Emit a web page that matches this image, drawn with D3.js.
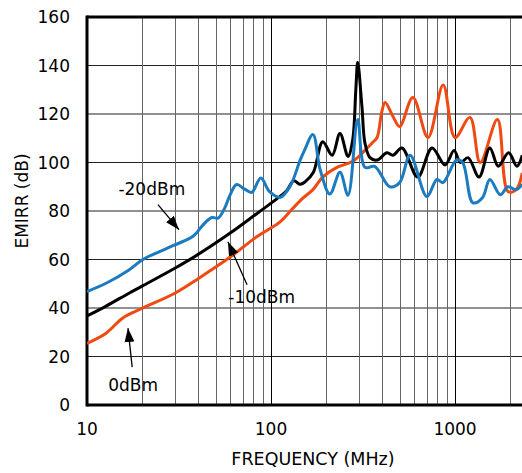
<!DOCTYPE html>
<html>
<head>
<meta charset="utf-8">
<script src="https://cdn.jsdelivr.net/npm/d3@7"></script>
<style>
  body { margin: 0; background: #fff; }
  text { font-family: "DejaVu Sans", sans-serif; fill: #000; }
</style>
</head>
<body>
<div id="chart"></div>
<script>
// frequency (MHz), EMIRR (dB)
const minus20dBm = [[10,46.8],[12.7,50.2],[16.9,55.7],[20,59.9],[23.7,62.6],[30,66],[38,69.8],[42.7,74.3],[47.7,77.3],[51.6,77.1],[56,81.2],[60,86.7],[65,90.9],[72,89],[78.6,87.7],[88,93.6],[98,88.1],[112,85.6],[127,90.2],[144,101],[152,105],[169,111.5],[185,97],[209,87],[237,96],[262,86.5],[296,117.7],[324,98],[366,98.4],[442,90],[500,91.7],[570,103],[703,86],[797,93],[860,91.7],[1018,101],[1100,100],[1250,83.4],[1410,85.5],[1546,93],[1760,86.7],[1940,90],[2150,88.8],[2320,91]];
const minus10dBm = [[10,36.7],[12.7,40.8],[16.9,46.1],[20,49.1],[30,56.4],[39.8,61.9],[60,70.9],[84,79],[112,86],[122,88.5],[133,92.5],[144,91],[153,92],[170,96],[191,108.6],[215,103],[237,112],[262,102.5],[278,109.5],[289,130],[296,141.3],[312,123],[324,108],[345,102],[377,101],[427,104],[460,103],[515,106],[627,94],[750,106],[883,99],[988,105],[1070,100],[1177,102],[1350,94],[1546,106],[1718,98.5],[1955,104],[2170,98.5],[2320,103]];
const zero_dBm = [[10,25.4],[12.7,29.6],[15.6,35.8],[20,39.9],[30,46.1],[39.8,51.9],[60,61],[84,69.5],[112,75.5],[131,81],[150,85.5],[169,88.8],[191,94],[228,98],[278,100.5],[324,105],[354,108],[377,110.3],[400,121],[417,124.7],[460,119],[500,114.8],[590,126.8],[713,110.3],[862,132],[1000,110.3],[1205,118.6],[1370,100],[1700,117.7],[1940,88],[2150,88.8],[2320,95.7]];

const xDomain = [10, 2312];
const yDomain = [0, 160];
const xTickLabels = [10, 100, 1000];
const yTicks = [0, 20, 40, 60, 80, 100, 120, 140, 160];
const xGrid = [20,30,40,50,60,70,80,90,100,200,300,400,500,600,700,800,900,1000,2000];
const xMajor = [100, 1000];

// label, text pos [f, dB], arrow tail, arrow head
const notes = [
  { label: "-20dBm", text: [22.5, 89.2], from: [24.3, 82.6], to: [31.6, 72.3] },
  { label: "-10dBm", text: [89, 44.6], from: [74.1, 49.6], to: [58.3, 67.3] },
  { label: "0dBm", text: [17.8, 8.2], from: [17.6, 15.6], to: [16.7, 31.7] }
];

const margin = { top: 17, right: 0, bottom: 68, left: 87 };
const W = 522, H = 473;
const width = W - margin.left - margin.right;
const height = H - margin.top - margin.bottom;

const svg = d3.select("#chart").append("svg")
    .attr("width", W)
    .attr("height", H);

svg.append("defs").append("clipPath").attr("id", "clip")
  .append("rect").attr("width", width).attr("height", height);

svg.select("defs").append("marker")
    .attr("id", "arrow")
    .attr("viewBox", "0 0 14 10")
    .attr("refX", 14).attr("refY", 5)
    .attr("markerWidth", 14).attr("markerHeight", 10)
    .attr("markerUnits", "userSpaceOnUse")
    .attr("orient", "auto")
  .append("path").attr("d", "M0,0L14,5L0,10Z").attr("fill", "#000");

const g = svg.append("g")
    .attr("transform", "translate(" + margin.left + "," + margin.top + ")");

const x = d3.scaleLog().domain(xDomain).range([0, width]);
const y = d3.scaleLinear().domain(yDomain).range([height, 0]);

// grid
g.append("g").selectAll("line")
  .data(yTicks.slice(1, -1))
  .enter().append("line")
    .attr("x1", 0).attr("x2", width)
    .attr("y1", d => y(d)).attr("y2", d => y(d))
    .attr("stroke", "#222").attr("stroke-width", 1);

g.append("g").selectAll("line")
  .data(xGrid)
  .enter().append("line")
    .attr("x1", d => Math.round(x(d)) + 0.5).attr("x2", d => Math.round(x(d)) + 0.5)
    .attr("y1", 0).attr("y2", height)
    .attr("stroke", d => xMajor.includes(d) ? "#000" : "#666")
    .attr("stroke-width", 1);

// frame
g.append("line").attr("x1", 0).attr("x2", width).attr("y1", 0).attr("y2", 0)
  .attr("stroke", "#000").attr("stroke-width", 3);
g.append("line").attr("x1", 0).attr("x2", width).attr("y1", height).attr("y2", height)
  .attr("stroke", "#000").attr("stroke-width", 3);
g.append("line").attr("x1", 0).attr("x2", 0).attr("y1", -1.5).attr("y2", height + 1.5)
  .attr("stroke", "#000").attr("stroke-width", 3);

// tick labels
g.append("g").selectAll("text")
  .data(yTicks)
  .enter().append("text")
    .attr("x", -17)
    .attr("y", d => y(d))
    .attr("dy", "0.36em")
    .attr("text-anchor", "end")
    .style("font-size", "17px")
    .text(d => d);

g.append("g").selectAll("text")
  .data(xTickLabels)
  .enter().append("text")
    .attr("x", d => x(d))
    .attr("y", height + 30)
    .attr("text-anchor", "middle")
    .style("font-size", "17px")
    .text(d => d);

svg.append("text")
    .attr("x", 313).attr("y", 465)
    .attr("text-anchor", "middle")
    .style("font-size", "17.5px")
    .text("FREQUENCY (MHz)");

svg.append("text")
    .attr("transform", "translate(28,201) rotate(-90)")
    .attr("text-anchor", "middle")
    .style("font-size", "17px")
    .text("EMIRR (dB)");

// curves
const line = d3.line()
    .x(d => x(d[0]))
    .y(d => y(d[1]))
    .curve(d3.curveCatmullRom.alpha(0.5));

const series = [
  { data: zero_dBm, color: "#f04a12" },
  { data: minus10dBm, color: "#000000" },
  { data: minus20dBm, color: "#1b7bc0" }
];

const plot = g.append("g").attr("clip-path", "url(#clip)");
plot.selectAll("path")
  .data(series)
  .enter().append("path")
    .attr("d", d => line(d.data))
    .attr("fill", "none")
    .attr("stroke", d => d.color)
    .attr("stroke-width", 3)
    .attr("stroke-linejoin", "round");

// annotations
const ann = g.append("g");
ann.selectAll("line")
  .data(notes)
  .enter().append("line")
    .attr("x1", d => x(d.from[0])).attr("y1", d => y(d.from[1]))
    .attr("x2", d => x(d.to[0])).attr("y2", d => y(d.to[1]))
    .attr("stroke", "#000").attr("stroke-width", 1.3)
    .attr("marker-end", "url(#arrow)");

ann.selectAll("text")
  .data(notes)
  .enter().append("text")
    .attr("x", d => x(d.text[0]))
    .attr("y", d => y(d.text[1]))
    .attr("dy", "0.36em")
    .attr("text-anchor", "middle")
    .style("font-size", "17px")
    .text(d => d.label);
</script>
</body>
</html>
